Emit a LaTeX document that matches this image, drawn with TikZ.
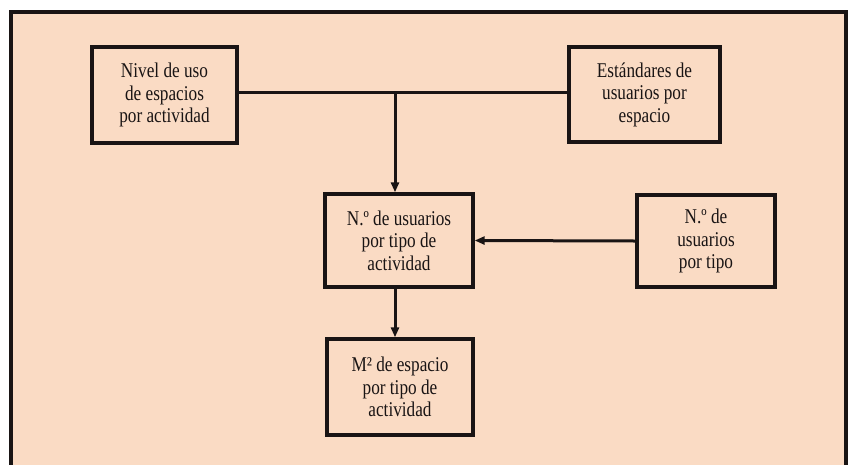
\documentclass[tikz,border=0pt]{standalone}
\usepackage{fontspec}
\setmainfont{Liberation Serif}[FakeStretch=0.82]
\usetikzlibrary{arrows.meta}
\definecolor{peach}{RGB}{250,219,196}
\definecolor{ink}{RGB}{25,20,20}
\tikzset{
  box/.style={draw=ink, line width=3.4pt, fill=peach, align=center, inner sep=0pt,
    font=\fontsize{21}{22.5}\selectfont, text=ink, minimum width=#1},
  box/.default=145pt,
  conn/.style={draw=ink, line width=3pt},
  arr/.style={conn, -{Triangle[length=10pt,width=8pt]}},
}
\begin{document}
\begin{tikzpicture}[x=1pt,y=-1pt]
\useasboundingbox (0,0) rectangle (854,464);
\fill[white] (0,0) rectangle (854,464);
\draw[draw=ink, line width=3.4pt, fill=peach] (11,470) -- (11,12) -- (846,12) -- (846,470);
\node[box=145pt, minimum height=96pt] (b1) at (164.5,95) {Nivel de uso\\de espacios\\por actividad};
\node[box=151pt, minimum height=95pt] (b2) at (644.5,94.5) {Estándares de\\usuarios por\\espacio};
\node[box=148pt, minimum height=93pt] (b3) at (399,240.5) {N.º de usuarios\\por tipo de\\actividad};
\node[box=138pt, minimum height=92pt] (b4) at (706,241) {N.º de\\usuarios\\por tipo};
\node[box=146pt, minimum height=96pt] (b5) at (400,387) {M² de espacio\\por tipo de\\actividad};
\coordinate (j) at (395,92);
\draw[conn] (b1.east |- j) -- (b2.west |- j);
\draw[arr] (j) -- (j |- b3.north);
\draw[arr] (b4.west) -- (b3.east);
\draw[arr] (b3.south -| j) -- (j |- b5.north);
\end{tikzpicture}
\end{document}
